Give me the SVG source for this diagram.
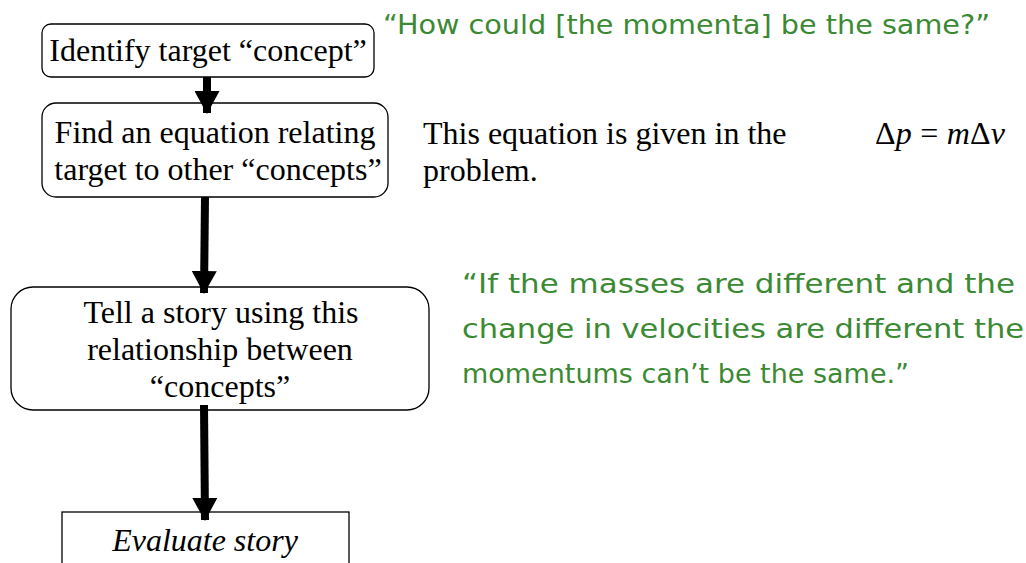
<svg xmlns="http://www.w3.org/2000/svg" width="1026" height="563" viewBox="0 0 1026 563">
<style>
.box{fill:#fff;stroke:#000;stroke-width:1.3}
.t{font-family:"Liberation Serif",serif;font-size:32px;fill:#000}
.c{text-anchor:middle}
.g{font-family:"DejaVu Sans","Noto Sans",sans-serif;fill:#3b8a33;font-size:27px}
.sh{stroke:#000;stroke-width:8;fill:none}
</style>
<defs>
<marker id="ah" viewBox="0 0 23 25" refX="22" refY="12.5" markerWidth="23" markerHeight="25" markerUnits="userSpaceOnUse" orient="auto">
<path d="M0,0 L23,12.5 L0,25 Z" fill="#000"/>
</marker>
</defs>
<rect width="1026" height="563" fill="#fff"/>
<g id="n1">
<rect class="box" x="42" y="24" width="332" height="53" rx="9"/>
<text class="t c" x="208" y="61">Identify target “concept”</text>
</g>
<g id="n2">
<rect class="box" x="42" y="103" width="346" height="94" rx="14"/>
<text class="t c" x="215" y="143">Find an equation relating</text>
<text class="t c" x="218" y="180">target to other “concepts”</text>
</g>
<g id="n3">
<rect class="box" x="11" y="287" width="418" height="123" rx="22"/>
<text class="t c" x="221" y="323">Tell a story using this</text>
<text class="t c" x="220" y="360">relationship between</text>
<text class="t c" x="220" y="397">“concepts”</text>
</g>
<g id="n4">
<rect class="box" x="62" y="512" width="287" height="60"/>
<text class="t c" x="205" y="551" font-style="italic">Evaluate story</text>
</g>
<g id="connectors">
<line class="sh" x1="207" y1="77" x2="207" y2="113" marker-end="url(#ah)"/>
<line class="sh" x1="205" y1="197" x2="204" y2="293" marker-end="url(#ah)"/>
<line class="sh" x1="204" y1="405" x2="205" y2="520" marker-end="url(#ah)"/>
</g>
<g id="notes">
<text class="g" x="383" y="34" textLength="607" lengthAdjust="spacingAndGlyphs">“How could [the momenta] be the same?”</text>
<text class="t" x="423" y="144">This equation is given in the</text>
<text class="t" x="423" y="181">problem.</text>
<text class="t" x="875" y="144" textLength="130" lengthAdjust="spacing"><tspan>Δ</tspan><tspan font-style="italic">p</tspan> = <tspan font-style="italic">m</tspan>Δ<tspan font-style="italic">v</tspan></text>
<text class="g" x="462" y="293" font-size="29" textLength="553" lengthAdjust="spacingAndGlyphs">“If the masses are different and the</text>
<text class="g" x="462" y="338" font-size="29" textLength="562" lengthAdjust="spacingAndGlyphs">change in velocities are different the</text>
<text class="g" x="462" y="383" font-size="29">momentums can’t be the same.”</text>
</g>
</svg>
